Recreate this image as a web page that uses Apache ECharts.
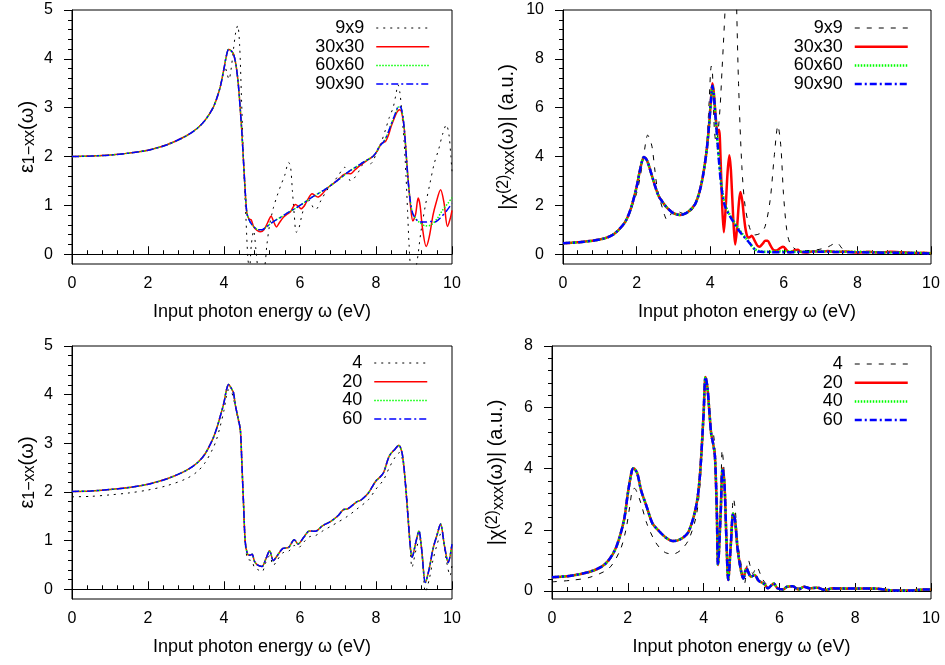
<!DOCTYPE html>
<html>
<head>
<meta charset="utf-8">
<script src="https://cdn.jsdelivr.net/npm/echarts@6/dist/echarts.min.js"></script>
<style>
  html, body { margin: 0; padding: 0; background: #fff; }
  #chart { width: 945px; height: 665px; }
</style>
</head>
<body>
<div id="chart"></div>
<script>
// Tick values for the axes
const xTicks = [0, 2, 4, 6, 8, 10];
const epsTicks = [0, 1, 2, 3, 4, 5];
const chiTopTicks = [0, 2, 4, 6, 8, 10];
const chiBottomTicks = [0, 2, 4, 6, 8];

// Legend labels: k-point grids (top row) and number of bands (bottom row)
const gridLabels = ['9x9', '30x30', '60x60', '90x90'];
const bandLabels = ['4', '20', '40', '60'];

// ---- ε1-xx(ω), k-point convergence ----
const epsKShared = [[0,2.00],[0.5,2.01],[1,2.03],[1.5,2.07],[2,2.13],[2.5,2.24],[3,2.42],[3.3,2.58],[3.5,2.74],[3.7,2.98],[3.8,3.17],[3.9,3.42],[4.0,3.80],[4.06,4.05],[4.12,4.19],[4.18,4.17],[4.25,4.10],[4.32,3.85],[4.38,3.45],[4.43,2.95],[4.47,2.5],[4.51,1.95],[4.55,1.4],[4.6,0.85]];
const eps9 = [[0,2.0],[1,2.03],[2,2.13],[3,2.42],[3.5,2.74],[3.8,3.17],[3.95,3.6],[4.02,3.85],[4.08,3.7],[4.13,3.58],[4.18,3.75],[4.25,4.2],[4.31,4.55],[4.36,4.68],[4.41,4.3],[4.46,3.2],[4.52,1.8],[4.58,0.7],[4.63,-0.1],[4.67,-0.3],[4.72,0.2],[4.78,0.48],[4.84,0.1],[4.9,-0.3],[4.98,-0.35],[5.06,-0.3],[5.13,0.2],[5.2,0.6],[5.3,0.95],[5.4,1.2],[5.5,1.42],[5.6,1.62],[5.7,1.88],[5.75,1.8],[5.8,1.3],[5.85,0.8],[5.9,0.45],[5.96,0.5],[6.05,0.8],[6.15,1.05],[6.25,1.1],[6.35,0.95],[6.42,0.92],[6.55,1.1],[6.7,1.3],[6.85,1.45],[7.0,1.6],[7.1,1.72],[7.18,1.78],[7.25,1.65],[7.33,1.5],[7.42,1.55],[7.55,1.7],[7.68,1.88],[7.77,1.93],[7.85,1.85],[7.92,1.9],[8.0,2.05],[8.12,2.25],[8.25,2.55],[8.35,2.8],[8.45,3.0],[8.52,3.25],[8.58,3.47],[8.63,3.3],[8.68,2.9],[8.74,2.3],[8.79,1.6],[8.83,0.9],[8.87,0.2],[8.92,-0.3],[9.0,-0.35],[9.07,-0.2],[9.18,0.45],[9.3,1.0],[9.42,1.45],[9.53,1.85],[9.65,2.15],[9.75,2.45],[9.85,2.65],[9.92,2.45],[9.97,2.0],[10,1.7]];
const eps30Tail = [[4.66,0.72],[4.72,0.70],[4.78,0.56],[4.87,0.49],[4.96,0.46],[5.05,0.5],[5.15,0.65],[5.24,0.78],[5.31,0.66],[5.38,0.56],[5.47,0.66],[5.57,0.76],[5.66,0.82],[5.75,0.87],[5.88,1.02],[5.96,0.98],[6.03,0.93],[6.12,1.0],[6.19,1.1],[6.32,1.24],[6.4,1.2],[6.47,1.17],[6.6,1.25],[6.71,1.35],[6.9,1.46],[7.05,1.56],[7.15,1.63],[7.25,1.66],[7.33,1.65],[7.45,1.73],[7.6,1.83],[7.8,1.94],[7.95,2.02],[8.05,2.14],[8.15,2.27],[8.25,2.31],[8.32,2.42],[8.4,2.62],[8.5,2.82],[8.56,2.92],[8.62,2.96],[8.67,2.92],[8.74,2.6],[8.82,1.78],[8.91,0.98],[8.97,0.68],[9.04,0.81],[9.11,1.15],[9.16,1.0],[9.22,0.55],[9.32,0.16],[9.4,0.35],[9.5,0.8],[9.58,1.05],[9.7,1.32],[9.79,1.05],[9.88,0.57],[9.95,0.72],[10,0.9]];
const eps60Tail = [[4.65,0.72],[4.72,0.62],[4.8,0.55],[4.9,0.50],[5.0,0.50],[5.1,0.55],[5.3,0.67],[5.5,0.76],[5.7,0.86],[5.9,0.95],[6.1,1.05],[6.3,1.16],[6.5,1.25],[6.7,1.35],[6.9,1.46],[7.1,1.58],[7.3,1.70],[7.5,1.80],[7.7,1.90],[7.9,1.99],[8.0,2.08],[8.1,2.22],[8.2,2.30],[8.3,2.45],[8.4,2.66],[8.5,2.86],[8.6,3.02],[8.66,2.99],[8.72,2.75],[8.78,2.2],[8.84,1.55],[8.9,1.1],[8.96,0.85],[9.05,0.72],[9.15,0.65],[9.3,0.58],[9.45,0.6],[9.6,0.72],[9.75,0.9],[9.9,1.05],[10,1.16]];
const eps90Tail = [[4.65,0.72],[4.72,0.62],[4.8,0.55],[4.9,0.50],[5.0,0.50],[5.1,0.55],[5.3,0.67],[5.5,0.76],[5.7,0.86],[5.9,0.95],[6.1,1.05],[6.3,1.16],[6.5,1.25],[6.7,1.35],[6.9,1.46],[7.1,1.58],[7.3,1.70],[7.5,1.80],[7.7,1.90],[7.9,1.99],[8.0,2.08],[8.1,2.22],[8.2,2.30],[8.3,2.45],[8.4,2.66],[8.5,2.86],[8.6,3.03],[8.66,3.0],[8.72,2.75],[8.78,2.2],[8.84,1.55],[8.9,1.1],[8.96,0.85],[9.05,0.72],[9.15,0.66],[9.3,0.66],[9.45,0.67],[9.55,0.66],[9.7,0.75],[9.85,0.88],[10,1.04]];

// ---- |χ(2)xxx(ω)|, k-point convergence ----
const chiKShared = [[0,0.45],[0.5,0.5],[1,0.6],[1.3,0.75],[1.5,0.98],[1.7,1.35],[1.85,1.9],[2.0,2.75],[2.1,3.5],[2.2,3.98],[2.28,3.85],[2.4,3.3],[2.5,2.8],[2.6,2.38],[2.7,2.15],[2.8,1.95],[2.9,1.8],[3.0,1.68],[3.1,1.63],[3.2,1.61],[3.3,1.65],[3.4,1.74],[3.5,1.88],[3.6,2.08],[3.7,2.5],[3.8,3.18],[3.9,4.2],[3.97,5.3],[4.02,6.3]];
const chi9 = [[0,0.45],[1,0.6],[1.5,0.98],[1.8,1.68],[2.0,2.5],[2.1,3.2],[2.19,4.0],[2.25,4.6],[2.3,4.88],[2.36,4.7],[2.42,4.4],[2.5,3.4],[2.55,2.8],[2.62,2.3],[2.7,1.9],[2.76,1.6],[2.82,1.42],[2.9,1.55],[2.96,1.72],[3.02,1.8],[3.1,1.78],[3.2,1.7],[3.3,1.66],[3.4,1.68],[3.5,1.8],[3.6,2.05],[3.73,2.64],[3.82,3.4],[3.91,4.55],[3.97,6.2],[4.03,7.7],[4.06,7.5],[4.11,5.2],[4.16,4.6],[4.2,4.8],[4.27,6.05],[4.32,7.5],[4.36,8.65],[4.42,10.5],[4.5,13],[4.6,14],[4.68,12.5],[4.72,10.0],[4.77,7.0],[4.86,3.6],[4.95,1.95],[5.09,1.0],[5.22,0.79],[5.36,0.86],[5.49,1.13],[5.63,2.23],[5.74,4.0],[5.84,5.26],[5.92,4.41],[5.99,2.5],[6.08,1.0],[6.17,0.45],[6.35,0.18],[6.6,0.15],[6.9,0.18],[7.2,0.3],[7.35,0.42],[7.46,0.45],[7.55,0.3],[7.62,0.18],[7.8,0.08],[8.2,0.1],[8.7,0.1],[9.2,0.05],[10,0.02]];
const chi30Tail = [[4.06,7.0],[4.1,6.6],[4.15,5.6],[4.2,5.0],[4.24,5.1],[4.28,4.0],[4.32,2.2],[4.37,0.9],[4.42,1.9],[4.47,3.3],[4.52,4.05],[4.56,3.5],[4.6,2.3],[4.64,1.1],[4.68,0.4],[4.73,1.1],[4.78,2.1],[4.82,2.55],[4.87,2.2],[4.92,1.5],[4.97,0.95],[5.03,0.68],[5.08,0.7],[5.13,0.76],[5.2,0.58],[5.28,0.36],[5.34,0.31],[5.42,0.42],[5.5,0.55],[5.56,0.55],[5.64,0.35],[5.72,0.17],[5.8,0.15],[5.9,0.25],[5.98,0.31],[6.06,0.2],[6.14,0.08],[6.22,0.1],[6.3,0.17],[6.38,0.18],[6.46,0.1],[6.6,0.07],[6.8,0.12],[7.0,0.1],[7.2,0.13],[7.4,0.09],[7.7,0.11],[8.0,0.07],[8.3,0.1],[8.6,0.07],[8.9,0.1],[9.2,0.08],[9.5,0.05],[9.8,0.06],[10,0.04]];
const chi60Tail = [[4.06,6.9],[4.1,6.5],[4.15,5.5],[4.2,4.6],[4.25,3.7],[4.3,2.9],[4.35,2.4],[4.4,2.05],[4.5,1.7],[4.6,1.45],[4.7,1.2],[4.8,0.98],[4.9,0.78],[5.0,0.6],[5.1,0.4],[5.2,0.22],[5.3,0.14],[5.5,0.1],[6,0.12],[6.5,0.1],[7,0.12],[7.5,0.1],[8,0.1],[8.5,0.08],[9,0.07],[9.5,0.06],[10,0.04]];
const chi90Tail = [[4.06,6.9],[4.1,6.5],[4.15,5.5],[4.2,4.55],[4.25,3.6],[4.3,2.8],[4.35,2.3],[4.4,1.97],[4.5,1.65],[4.6,1.4],[4.7,1.15],[4.8,0.93],[4.9,0.75],[5.0,0.58],[5.1,0.4],[5.2,0.22],[5.3,0.11],[5.5,0.09],[6,0.08],[6.5,0.09],[7,0.1],[7.5,0.09],[8,0.08],[8.5,0.07],[9,0.06],[9.5,0.05],[10,0.03]];

// ---- ε1-xx(ω), band convergence ----
const epsB4 = [[0,1.9],[0.5,1.91],[1,1.94],[1.5,1.98],[2,2.04],[2.5,2.13],[3,2.27],[3.3,2.42],[3.5,2.6],[3.7,2.88],[3.8,3.07],[3.9,3.35],[4.0,3.68],[4.06,3.95],[4.12,4.1],[4.2,4.05],[4.26,3.88],[4.3,3.75],[4.37,3.48],[4.43,3.22],[4.47,2.55],[4.52,1.55],[4.56,0.9],[4.62,0.62],[4.68,0.6],[4.74,0.58],[4.8,0.45],[4.9,0.4],[5.0,0.36],[5.1,0.55],[5.2,0.69],[5.3,0.49],[5.4,0.6],[5.55,0.75],[5.7,0.78],[5.85,0.9],[5.95,0.85],[6.1,0.97],[6.25,1.08],[6.4,1.1],[6.6,1.2],[6.8,1.29],[7.0,1.38],[7.25,1.5],[7.5,1.65],[7.8,1.84],[8.0,2.06],[8.2,2.25],[8.35,2.5],[8.5,2.71],[8.62,2.81],[8.7,2.65],[8.78,2.2],[8.87,1.3],[8.95,0.45],[9.05,0.8],[9.15,1.03],[9.22,0.7],[9.3,-0.06],[9.4,0.2],[9.5,0.6],[9.6,0.9],[9.72,1.17],[9.85,0.6],[9.95,0.28],[10,0.5]];
const epsBands = [[0,2.01],[0.5,2.02],[1,2.05],[1.5,2.09],[2,2.16],[2.5,2.27],[3,2.44],[3.3,2.6],[3.5,2.78],[3.7,3.08],[3.8,3.29],[3.9,3.55],[4.0,3.84],[4.06,4.08],[4.12,4.21],[4.2,4.12],[4.25,4.04],[4.3,3.78],[4.37,3.52],[4.43,3.28],[4.47,2.6],[4.52,1.65],[4.56,0.97],[4.62,0.72],[4.68,0.7],[4.74,0.72],[4.8,0.58],[4.88,0.5],[5.0,0.47],[5.1,0.62],[5.2,0.79],[5.3,0.59],[5.4,0.69],[5.55,0.84],[5.7,0.86],[5.85,1.02],[5.95,0.93],[6.1,1.07],[6.25,1.2],[6.4,1.19],[6.6,1.31],[6.8,1.39],[7.0,1.51],[7.15,1.64],[7.25,1.65],[7.5,1.8],[7.6,1.83],[7.8,1.98],[8.0,2.23],[8.1,2.3],[8.2,2.4],[8.35,2.74],[8.5,2.88],[8.6,2.96],[8.7,2.74],[8.8,1.92],[8.9,0.9],[8.95,0.66],[9.05,0.97],[9.13,1.2],[9.2,0.83],[9.3,0.14],[9.4,0.42],[9.5,0.83],[9.6,1.1],[9.7,1.34],[9.8,0.9],[9.9,0.55],[10,0.93]];

// ---- |χ(2)xxx(ω)|, band convergence ----
const chiB4 = [[0,0.3],[0.5,0.35],[1,0.45],[1.5,0.74],[1.8,1.34],[1.95,2.0],[2.05,2.75],[2.12,3.3],[2.18,3.35],[2.25,3.2],[2.35,2.85],[2.5,2.21],[2.7,1.66],[2.85,1.4],[3.0,1.25],[3.2,1.21],[3.4,1.34],[3.6,1.66],[3.8,2.42],[3.9,3.4],[4.0,5.47],[4.05,6.93],[4.1,6.55],[4.15,5.8],[4.2,5.25],[4.25,5.2],[4.3,4.6],[4.35,2.6],[4.39,1.0],[4.45,2.8],[4.49,4.6],[4.54,3.9],[4.6,1.9],[4.65,0.45],[4.72,1.8],[4.79,3.02],[4.84,2.6],[4.9,1.6],[5.0,0.8],[5.08,0.25],[5.18,1.01],[5.3,0.57],[5.4,0.79],[5.55,0.4],[5.7,0.2],[5.85,0.2],[6.0,0.09],[6.2,0.12],[6.4,0.1],[6.7,0.1],[7,0.08],[7.5,0.06],[8,0.06],[8.5,0.05],[9,0.03],[9.5,0.03],[10,0.04]];
const chiBands = [[0,0.45],[0.5,0.5],[1,0.63],[1.3,0.79],[1.5,1.01],[1.7,1.45],[1.9,2.32],[2.0,3.18],[2.1,3.89],[2.15,4.01],[2.25,3.84],[2.35,3.29],[2.5,2.75],[2.65,2.21],[2.8,1.99],[3.0,1.75],[3.2,1.63],[3.4,1.7],[3.6,1.93],[3.8,2.75],[3.9,3.73],[4.0,5.79],[4.05,6.99],[4.1,6.66],[4.15,5.9],[4.2,5.14],[4.25,4.82],[4.3,4.38],[4.35,2.53],[4.38,0.85],[4.45,2.53],[4.5,4.0],[4.55,3.51],[4.6,1.77],[4.65,0.36],[4.72,1.55],[4.78,2.53],[4.83,2.32],[4.9,1.34],[5.0,0.58],[5.05,0.41],[5.13,0.74],[5.25,0.47],[5.35,0.52],[5.45,0.34],[5.6,0.23],[5.7,0.09],[5.85,0.25],[5.95,0.09],[6.1,0.05],[6.2,0.14],[6.35,0.16],[6.5,0.05],[6.65,0.14],[6.8,0.09],[7.0,0.11],[7.2,0.03],[7.4,0.09],[7.6,0.08],[8.0,0.08],[8.5,0.08],[9.0,0.02],[9.5,0.02],[9.8,0.05],[10,0.05]];

const FONT = 'Liberation Sans';
const X_NAME = 'Input photon energy ω (eV)';
const EPS_NAME = '{m|ε}{s|1−xx}{m|(ω)}';
const CHI_NAME = '{m||χ}{p|(2)}{s|xxx}{m|(ω)| (a.u.)}';

// Line styles: thin panels (ε) and thick panels (χ)
const thinStyles = [
  { color: '#000000', width: 1, type: [2, 5] },
  { color: '#ff0000', width: 1.5, type: 'solid' },
  { color: '#00ff00', width: 1.5, type: [1.5, 1.5] },
  { color: '#0000ff', width: 1.5, type: [7, 3, 2, 3] }
];
const thickStyles = [
  { color: '#000000', width: 1, type: [5, 7] },
  { color: '#ff0000', width: 2.5, type: 'solid' },
  { color: '#00ff00', width: 2.5, type: [1.5, 1.5] },
  { color: '#0000ff', width: 2.5, type: [7, 3, 2, 3] }
];

const panels = [
  { key: 'ek', labels: gridLabels, styles: thinStyles,
    data: [eps9, epsKShared.concat(eps30Tail), epsKShared.concat(eps60Tail), epsKShared.concat(eps90Tail)],
    grid: { left: 72, top: 10, width: 380, height: 254 },
    y: { min: -0.2, max: 5, step: 1, ticks: epsTicks, name: EPS_NAME, gap: 34 },
    legend: { right: 515, top: 19 } },
  { key: 'ck', labels: gridLabels, styles: thickStyles,
    data: [chi9, chiKShared.concat(chi30Tail), chiKShared.concat(chi60Tail), chiKShared.concat(chi90Tail)],
    grid: { left: 563, top: 10, width: 368, height: 254 },
    y: { min: -0.4, max: 10, step: 2, ticks: chiTopTicks, name: CHI_NAME, gap: 45 },
    legend: { right: 36, top: 19 } },
  { key: 'eb', labels: bandLabels, styles: thinStyles,
    data: [epsB4, epsBands, epsBands, epsBands],
    grid: { left: 72, top: 346, width: 380, height: 253 },
    y: { min: -0.2, max: 5, step: 1, ticks: epsTicks, name: EPS_NAME, gap: 34 },
    legend: { right: 517, top: 354 } },
  { key: 'cb', labels: bandLabels, styles: thickStyles,
    data: [chiB4, chiBands, chiBands, chiBands],
    grid: { left: 552, top: 346, width: 379, height: 253 },
    y: { min: -0.26, max: 8, step: 2, ticks: chiBottomTicks, name: CHI_NAME, gap: 45 },
    legend: { right: 36, top: 355 } }
];

const txt = { fontFamily: FONT, color: '#000' };
const nameRich = {
  m: Object.assign({}, txt, { fontSize: 20, lineHeight: 22 }),
  s: Object.assign({}, txt, { fontSize: 16, lineHeight: 17, padding: [10, 0, 0, 0], verticalAlign: 'bottom' }),
  p: Object.assign({}, txt, { fontSize: 16, lineHeight: 17, padding: [0, 0, 10, 0], verticalAlign: 'top' })
};
const black = { color: '#000', width: 1 };

const option = {
  animation: false,
  backgroundColor: '#fff',
  textStyle: { fontFamily: FONT },
  grid: [], xAxis: [], yAxis: [], legend: [], series: []
};

panels.forEach((p, i) => {
  option.grid.push(Object.assign({ show: true, borderColor: '#000', borderWidth: 1, backgroundColor: 'transparent' }, p.grid));
  option.xAxis.push({
    type: 'value', gridIndex: i, min: 0, max: 10, interval: 2,
    axisLine: { show: true, lineStyle: black },
    axisTick: { show: true, inside: true, length: 8, lineStyle: black },
    minorTick: { show: true, splitNumber: 5, length: 4, lineStyle: black },
    splitLine: { show: false },
    axisLabel: Object.assign({ margin: 12, fontSize: 16, customValues: xTicks }, txt),
    name: X_NAME, nameLocation: 'middle', nameGap: 39,
    nameTextStyle: Object.assign({ fontSize: 18 }, txt)
  });
  option.yAxis.push({
    type: 'value', gridIndex: i, min: p.y.min, max: p.y.max,
    minInterval: p.y.step, maxInterval: p.y.step,
    axisLine: { show: true, lineStyle: black },
    axisTick: { show: true, inside: false, length: 8, lineStyle: black, customValues: p.y.ticks },
    minorTick: { show: true, splitNumber: 5, length: 4, lineStyle: black },
    splitLine: { show: false },
    axisLabel: Object.assign({ margin: 19, fontSize: 16, customValues: p.y.ticks }, txt),
    name: p.y.name, nameLocation: 'middle', nameRotate: 90, nameGap: p.y.gap,
    nameTextStyle: Object.assign({ fontSize: 20, rich: nameRich }, txt)
  });
  const names = p.labels.map(l => p.key + ':' + l);
  option.legend.push({
    orient: 'vertical', align: 'right', selectedMode: false,
    right: p.legend.right, top: p.legend.top, padding: 0,
    itemWidth: 53, itemHeight: 14, itemGap: 0.7,
    data: names,
    lineStyle: { width: 'inherit' },
    itemStyle: { opacity: 0 },
    formatter: n => '{t|' + n.split(':')[1] + '}',
    textStyle: Object.assign({ fontSize: 18, lineHeight: 18,
      rich: { t: Object.assign({ fontSize: 18, lineHeight: 18, padding: [0, 7, 0, 0] }, txt) } }, txt)
  });
  p.data.forEach((d, j) => {
    const st = p.styles[j];
    const s = {
      type: 'line', name: names[j], data: d,
      xAxisIndex: i, yAxisIndex: i,
      symbol: 'none', smooth: 0.3, clip: true,
      lineStyle: { color: st.color, width: st.width, type: st.type },
      itemStyle: { color: st.color },
      emphasis: { disabled: true },
      z: 2 + j
    };
    if (j === 0) {
      // dotted zero reference line
      s.markLine = {
        silent: true, symbol: ['none', 'none'], label: { show: false },
        lineStyle: { color: '#000', width: 1, type: [1, 2] },
        data: [{ yAxis: 0 }], animation: false
      };
    }
    option.series.push(s);
  });
});

const chart = echarts.init(document.getElementById('chart'), null, { renderer: 'canvas' });
chart.setOption(option);
</script>
</body>
</html>
